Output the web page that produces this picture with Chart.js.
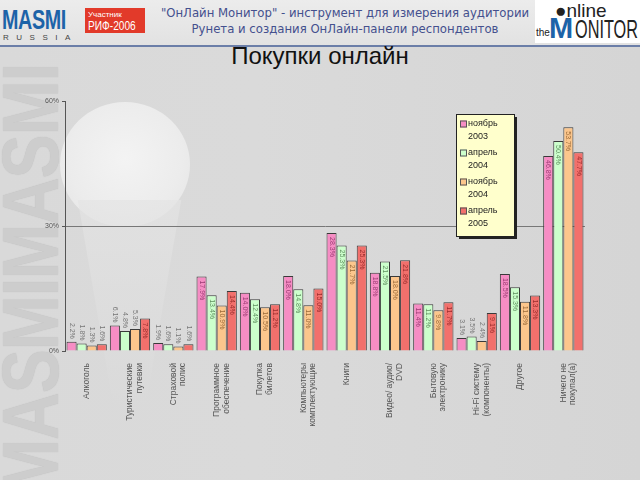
<!DOCTYPE html>
<html><head><meta charset="utf-8">
<script src="https://cdn.jsdelivr.net/npm/chart.js@4"></script>
<style>
html,body{margin:0;padding:0;width:640px;height:480px;overflow:hidden;background:#d8d8d8;font-family:"Liberation Sans",Arial,sans-serif;}
#wrap{position:relative;width:640px;height:480px;background:linear-gradient(90deg,#d9d9d9 0%,#dadada 40%,#d5d5d5 100%);}
#bulb{position:absolute;left:60px;top:102px;width:130px;height:125px;border-radius:50%;background:radial-gradient(circle at 50% 45%,#f6f6f6 0%,#eeeeee 60%,#e4e4e4 100%);opacity:.9;}
#cone{position:absolute;left:72px;top:200px;width:115px;height:220px;background:linear-gradient(180deg,#e4e4e4,#d9d9d9);clip-path:polygon(5% 0,95% 0,62% 100%,38% 100%);opacity:.7;}
#wm{position:absolute;left:-195px;top:238px;width:450px;height:62px;transform:rotate(-90deg) scaleY(1.2);font:bold 66px "Liberation Sans",Arial,sans-serif;color:#cdcdcd;letter-spacing:-1px;white-space:nowrap;line-height:62px;text-shadow:0 0 1px #bbb;}
#header{position:absolute;left:0;top:0;width:640px;height:45px;background:linear-gradient(180deg,#ececec,#e2e2e2);border-bottom:2px solid #6b7ea8;}
#masmi{position:absolute;left:2px;top:5px;font:bold 27px "Liberation Sans",Arial,sans-serif;color:#1d63a8;letter-spacing:-0.5px;transform-origin:0 0;transform:scaleX(0.73);white-space:nowrap;}
#russia{position:absolute;left:3px;top:33px;font:8px "Liberation Sans",Arial,sans-serif;color:#444;letter-spacing:7.5px;}
#rif{position:absolute;left:85px;top:8px;width:60px;height:25px;background:#e23a2a;color:#fff;font:8px "Liberation Sans",Arial,sans-serif;line-height:9px;padding:2px 0 0 3px;box-sizing:border-box;overflow:hidden;}
#rif b{display:inline-block;font:normal 13px "Liberation Sans",Arial,sans-serif;line-height:13px;transform-origin:0 0;transform:scaleX(0.78);white-space:nowrap;}
#htxt{position:absolute;left:155px;top:5px;width:380px;text-align:center;font:13px "DejaVu Sans Condensed","Liberation Sans",sans-serif;color:#44508e;line-height:16px;}
#mon{position:absolute;left:535px;top:0;width:105px;height:43px;background:#fff;overflow:hidden;}
#mon .o{position:absolute;left:20px;top:0;font:19px "Liberation Sans",Arial,sans-serif;color:#222;}
#mon .t{position:absolute;left:1px;top:27px;font:10px "Liberation Sans",Arial,sans-serif;color:#222;}
#mon .m{position:absolute;left:14px;top:12px;font:bold 29px "Liberation Sans",Arial,sans-serif;color:#1d63a8;}
#mon .n{position:absolute;left:40px;top:15px;font:25px "Liberation Sans",Arial,sans-serif;color:#222;transform-origin:0 0;transform:scaleX(0.65);white-space:nowrap;}
#title{position:absolute;left:0;top:42px;width:640px;text-align:center;font:24px "Liberation Sans",Arial,sans-serif;color:#111;}
canvas{position:absolute;left:0;top:0;}
</style></head>
<body><div id="wrap">
<div id="wm">MASMIMASMI</div>
<div id="bulb"></div><div id="cone"></div>
<div id="header">
 <div id="masmi">MASMI</div><div id="russia">RUSSIA</div>
 <div id="rif">Участник<br><b>РИФ-2006</b></div>
 <div id="htxt">"ОнЛайн Монитор" - инструмент для измерения аудитории<br>Рунета и создания ОнЛайн-панели респондентов</div>
 <div id="mon"><span class="o">●nline</span><span class="t">the</span><span class="m">M</span><span class="n">ONITOR</span></div>
</div>
<div id="title">Покупки онлайн</div>
<canvas id="c" width="640" height="480"></canvas>
</div>
<script>
const categories = [
  "Алкоголь",
  ["Туристические","путевки"],
  ["Страховой","полис"],
  ["Программное","обеспечение"],
  ["Покупка","билетов"],
  ["Компьютеры","комплектующие"],
  "Книги",
  ["Видео/ аудио/","DVD"],
  ["Бытовую","электронику"],
  ["Hi-Fi систему","(компоненты)"],
  "Другое",
  ["Ничего не","покупал(а)"]
];
const seriesNames = ["ноябрь 2003","апрель 2004","ноябрь 2004","апрель 2005"];
const nov2003 = [2.2, 6.1, 1.9, 17.9, 14.0, 18.0, 28.3, 18.8, 11.4, 3.1, 18.5, 46.8];
const apr2004 = [1.8, 4.8, 1.6, 13.4, 12.4, 14.8, 25.3, 21.5, 11.2, 3.5, 15.3, 50.4];
const nov2004 = [1.3, 5.3, 1.1, 10.9, 10.5, 11.0, 21.7, 18.0,  9.8, 2.4, 11.8, 53.7];
const apr2005 = [1.6, 7.8, 1.6, 14.4, 11.2, 15.0, 25.3, 21.8, 11.7, 9.1, 13.3, 47.7];
const yTicks = [0, 30, 60];

const fills = ["#f68dc4","#ccffcc","#fcc68c","#f2706c"];
const labelColors = ["#9c3c74","#5f8f5f","#9a6a38","#9a2c2c"];
const allSeries = [nov2003, apr2004, nov2004, apr2005];

const valueLabels = {
  id:'valueLabels',
  afterDatasetsDraw(chart){
    const ctx = chart.ctx;
    ctx.save();
    ctx.font = '7px "Liberation Sans", Arial, sans-serif';
    chart.data.datasets.forEach((ds,di)=>{
      const meta = chart.getDatasetMeta(di);
      meta.data.forEach((bar,i)=>{
        const v = ds.data[i];
        const txt = v.toFixed(1) + '%';
        const h = bar.base - bar.y;
        ctx.save();
        ctx.translate(bar.x, h > 26 ? bar.y + 4 : bar.y - 3);
        ctx.rotate(Math.PI/2);
        ctx.textBaseline = 'middle';
        ctx.fillStyle = h > 26 ? labelColors[di] : '#777';
        ctx.textAlign = h > 26 ? 'left' : 'right';
        ctx.fillText(txt, 0, 0);
        ctx.restore();
      });
    });
    ctx.restore();
  }
};

const legendBox = {
  id:'legendBox',
  afterDraw(chart){
    const ctx = chart.ctx;
    const x = 456, y = 114, w = 58, h = 122;
    ctx.save();
    ctx.fillStyle = '#222';
    ctx.fillRect(x+3, y+3, w, h);
    ctx.fillStyle = '#ffffcc';
    ctx.fillRect(x, y, w, h);
    ctx.strokeStyle = '#222';
    ctx.lineWidth = 1;
    ctx.strokeRect(x+0.5, y+0.5, w, h);
    ctx.font = '9px "Liberation Sans", Arial, sans-serif';
    ctx.textBaseline = 'middle';
    seriesNames.forEach((n,i)=>{
      const parts = n.split(' ');
      const yy = y + 10 + i*29;
      ctx.fillStyle = fills[i];
      ctx.fillRect(x+4, yy-3.5, 7, 7);
      ctx.strokeStyle = '#555';
      ctx.strokeRect(x+4.5, yy-3, 6, 6);
      ctx.fillStyle = '#222';
      ctx.textAlign = 'left';
      ctx.fillText(parts[0], x+12, yy);
      ctx.fillText(parts[1], x+12, yy+13);
    });
    ctx.restore();
  }
};

new Chart(document.getElementById('c'), {
  type:'bar',
  data:{
    labels:categories,
    datasets: allSeries.map((d,i)=>({
      label:seriesNames[i], data:d,
      backgroundColor:fills[i], borderColor:'#3a3a3a', borderWidth:1,
      barPercentage:1.0, categoryPercentage:0.93
    }))
  },
  options:{
    responsive:false, animation:false,
    layout:{padding:{top:101,right:55,bottom:0,left:0}},
    plugins:{legend:{display:false},tooltip:{enabled:false}},
    scales:{
      x:{
        afterFit(s){ s.height = 129; },
        grid:{display:false},
        border:{display:false},
        ticks:{maxRotation:90,minRotation:90,autoSkip:false,padding:4,
          color:'#555',font:{size:8.5,family:'"Liberation Sans", Arial, sans-serif',lineHeight:1.15}}
      },
      y:{
        min:0,max:60,
        afterFit(s){ s.width = 65; },
        afterBuildTicks(s){ s.ticks = yTicks.map(v=>({value:v})); },
        border:{display:true,color:'#555',width:1},
        grid:{
          color:(c)=> c.tick && c.tick.value===30 ? '#777' : 'rgba(0,0,0,0)',
          tickColor:'#555', tickLength:3, drawTicks:true, lineWidth:1
        },
        ticks:{callback:v=>v+'%',color:'#555',padding:3,font:{size:7,family:'"Liberation Sans", Arial, sans-serif'}}
      }
    }
  },
  plugins:[valueLabels, legendBox]
});
</script>
</body></html>
